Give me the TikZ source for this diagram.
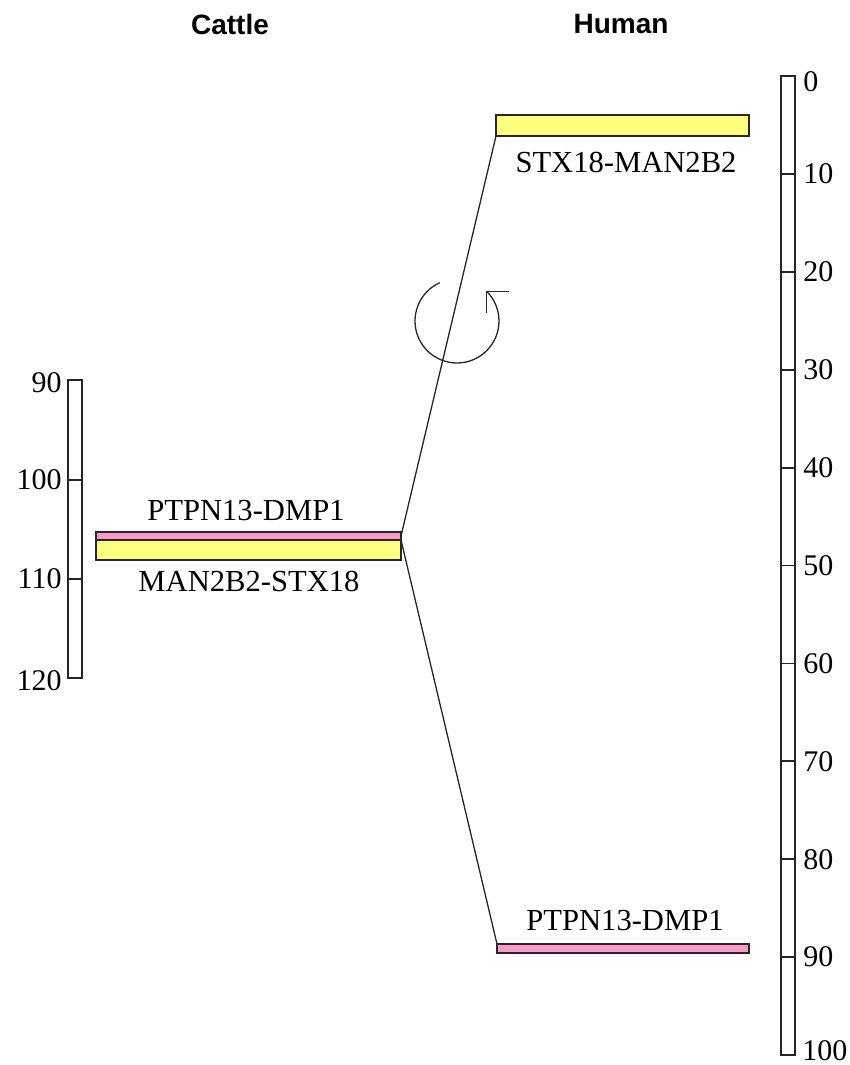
\documentclass[tikz,border=0pt]{standalone}
\usepackage{fontspec}
\setmainfont{Liberation Serif}
\newfontfamily\titlefont{Liberation Sans}
\usetikzlibrary{calc}
\definecolor{barY}{HTML}{FFFF80}
\definecolor{barP}{HTML}{FF99CC}
\tikzset{
  lbl/.style={font=\fontsize{15.3}{17}\selectfont, inner sep=0pt},
  num/.style={font=\fontsize{15}{17}\selectfont, inner sep=0pt},
  ttl/.style={font=\titlefont\bfseries\fontsize{14}{16}\selectfont, inner sep=0pt},
  seg/.style={draw=black!85, line width=0.9pt},
  gbar/.style={draw=black!85, line width=0.8pt, inner sep=0pt, outer sep=0pt},
  link/.style={draw=black!85, line width=0.65pt},
}
\begin{document}
\begin{tikzpicture}[x=0.5pt,y=-0.5pt]
\useasboundingbox (0,0) rectangle (850,1065);
% titles
\node[ttl] (tc) at (230,24) {Cattle};
\node[ttl] (th) at (621,24) {Human};
% cattle scale
\draw[seg] (68,380) rectangle (82,678);
\draw[seg] (68,480) -- (82,480);
\draw[seg] (68,579) -- (82,579);
\node[num, anchor=east] (c90) at (62,383) {90};
\node[num, anchor=east] (c100) at (62,480) {100};
\node[num, anchor=east] (c110) at (62,579) {110};
\node[num, anchor=east] (c120) at (62,681) {120};
% human scale
\draw[seg] (781,76) rectangle (795,1055);
\foreach \k in {1,...,9} {
  \draw[seg] (781,{76+97.9*\k}) -- (795,{76+97.9*\k});
}
\node[num, anchor=west] (h0) at (803,82) {0};
\foreach \v in {10,20,...,90} {
  \node[num, anchor=west] (h\v) at (803,{76+9.79*\v}) {\v};
}
\node[num, anchor=west] (h100) at (802,1051) {100};
% bars
\node[gbar, fill=barY, minimum width=126.5pt, minimum height=10.5pt] (hY) at (622.5,125.5) {};
\node[gbar, fill=barP, minimum width=126pt, minimum height=4.5pt] (hP) at (623,948.5) {};
\node[gbar, fill=barP, minimum width=152.5pt, minimum height=4pt] (cP) at (248.5,536) {};
\node[gbar, fill=barY, minimum width=152.5pt, minimum height=10pt] (cY) at (248.5,550) {};
% labels
\node[lbl] (lhY) at (626,162) {STX18-MAN2B2};
\node[lbl] (lhP) at (625,921) {PTPN13-DMP1};
\node[lbl] (lcP) at (246,511) {PTPN13-DMP1};
\node[lbl] (lcY) at (249,581) {MAN2B2-STX18};
% links
\draw[link] (cP.east) -- (hY.south west);
\draw[link] (cY.north east) -- (hP.north west);
% rotation arrow
\coordinate (rc) at (457,321);
\draw[link] ($(rc)+(-114:42)$) arc[start angle=-114, end angle=-405, radius=42];
\coordinate (tip) at ($(rc)+(-45:42)$);
\draw[link] ($(tip)+(22,0)$) -- (tip) -- ($(tip)+(0,22)$);
\end{tikzpicture}
\end{document}
